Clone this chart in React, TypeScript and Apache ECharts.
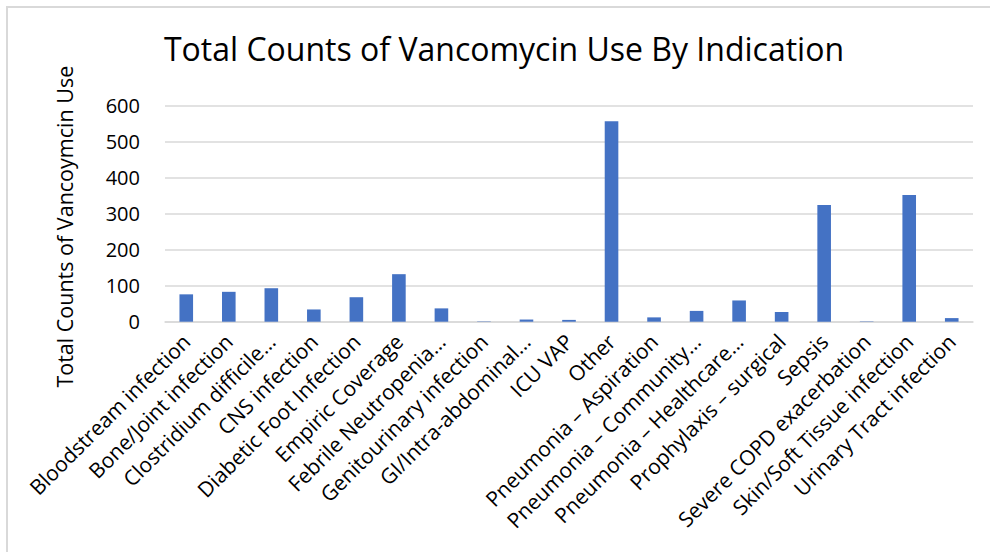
import React, { useEffect, useRef } from "react";
import * as echarts from "echarts";

const titleText = "Total Counts of Vancomycin Use By Indication";
const yAxisTitle = "Total Counts of Vancoymcin Use";
const categories = [
  "Bloodstream infection",
  "Bone/Joint infection",
  "Clostridium difficile…",
  "CNS infection",
  "Diabetic Foot Infection",
  "Empiric Coverage",
  "Febrile Neutropenia…",
  "Genitourinary infection",
  "GI/Intra-abdominal…",
  "ICU VAP",
  "Other",
  "Pneumonia – Aspiration",
  "Pneumonia – Community…",
  "Pneumonia – Healthcare…",
  "Prophylaxis – surgical",
  "Sepsis",
  "Severe COPD exacerbation",
  "Skin/Soft Tissue infection",
  "Urinary Tract infection",
];
const counts = [76, 83, 93, 34, 68, 132, 37, 1, 6, 5, 557, 12, 30, 59, 27, 324, 1, 352, 10];
const yTicks = { min: 0, max: 600, interval: 100 };

const FONT = "'Open Sans', 'Noto Sans', sans-serif";

export default function App() {
  const ref = useRef<HTMLDivElement>(null);
  useEffect(() => {
    document.body.style.margin = "0";
    const chart = echarts.init(ref.current!, null, { renderer: "svg" });
    chart.setOption({
      animation: false,
      backgroundColor: "#ffffff",
      textStyle: { fontFamily: FONT },
      title: {
        text: titleText,
        left: 499,
        textAlign: "center",
        top: 27,
        textStyle: { fontFamily: FONT, fontSize: 32, fontWeight: "normal", color: "#000000" },
      },
      graphic: [
        {
          type: "rect",
          shape: { x: 7, y: 7, width: 1100, height: 700 },
          style: { fill: "none", stroke: "#d9d9d9", lineWidth: 2 },
          silent: true,
        },
      ],
      grid: { left: 165, right: 17, top: 105.7, bottom: 230.3, containLabel: false },
      xAxis: {
        type: "category",
        data: categories,
        axisLine: { show: true, lineStyle: { color: "#d9d9d9", width: 1.5 } },
        axisTick: { show: false },
        axisLabel: {
          interval: 0,
          rotate: 45,
          margin: 16,
          fontFamily: FONT,
          fontSize: 21,
          color: "#000000",
        },
      },
      yAxis: {
        type: "value",
        min: yTicks.min,
        max: yTicks.max,
        interval: yTicks.interval,
        name: yAxisTitle,
        nameLocation: "middle",
        nameRotate: 90,
        nameGap: 90,
        nameTextStyle: { fontFamily: FONT, fontSize: 21.5, color: "#000000", padding: [0, 26, 0, 0] },
        axisLine: { show: false },
        axisTick: { show: false },
        splitLine: { lineStyle: { color: "#d9d9d9", width: 1.5 } },
        axisLabel: { fontFamily: FONT, fontSize: 20, color: "#000000", margin: 25 },
      },
      series: [
        {
          type: "bar",
          data: counts,
          barWidth: "32%",
          itemStyle: { color: "#4472c4" },
        },
      ],
    });
    return () => chart.dispose();
  }, []);
  return <div ref={ref} style={{ width: 990, height: 552 }} />;
}
